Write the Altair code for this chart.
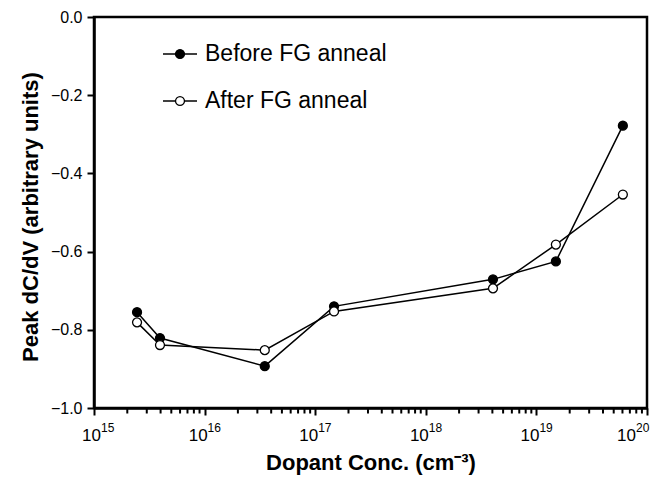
import altair as alt
import pandas as pd

# ---- data ----
conc = [2.45e15, 3.95e15, 3.5e16, 1.48e17, 4.05e18, 1.5e19, 6.05e19]
before = [-0.755, -0.821, -0.893, -0.740, -0.671, -0.625, -0.278]
after = [-0.781, -0.839, -0.852, -0.753, -0.694, -0.582, -0.454]
series_names = ["Before FG anneal", "After FG anneal"]
series_fill = ["black", "white"]
decades = [1e15, 1e16, 1e17, 1e18, 1e19, 1e20]
exponents = ["15", "16", "17", "18", "19", "20"]
y_ticks = [-1.0, -0.8, -0.6, -0.4, -0.2, 0.0]

W, H = 553, 391
FONT = "Liberation Sans"
label_shift = [7, 3, 3, 3, 3, -11]  # horizontal nudges of the 10^n labels (style)

rows = []
for c, b, a in zip(conc, before, after):
    rows.append({"conc": c, "val": b, "series": series_names[0]})
    rows.append({"conc": c, "val": a, "series": series_names[1]})
df = pd.DataFrame(rows)

minor_ticks = [d * m for d in decades[:-1] for m in range(2, 10)]

xscale = alt.Scale(type="log", domain=[1e15, 1e20])
yscale = alt.Scale(domain=[-1.0, 0.0], nice=False, zero=False)
fill_scale = alt.Scale(domain=series_names, range=series_fill)

x_axis = alt.Axis(
    values=decades, labels=False, grid=False, ticks=True,
    tickSize=7, tickWidth=2, tickColor="black", domainWidth=2.5, domainColor="black",
    title="Dopant Conc. (cm\u207b\u00b3)", titleFont=FONT, titleFontSize=22,
    titleFontWeight="bold", titleColor="black",
    titleX=W / 2, titleY=61, titleBaseline="alphabetic", titleAlign="center",
)
y_axis = alt.Axis(
    values=y_ticks, format=".1f", grid=False, ticks=True,
    tickSize=7, tickWidth=2, tickColor="black", domainWidth=2.5, domainColor="black",
    labelFont=FONT, labelFontSize=16, labelColor="black", labelPadding=5,
    title="Peak dC/dV (arbitrary units)", titleFont=FONT, titleFontSize=22,
    titleFontWeight="bold", titleColor="black", titleAngle=-90,
    titleX=-57, titleY=H / 2 + 4, titleBaseline="alphabetic", titleAlign="center",
)

base = alt.Chart(df)

lines = base.mark_line(color="black", strokeWidth=1.5).encode(
    x=alt.X("conc:Q", scale=xscale, axis=x_axis),
    y=alt.Y("val:Q", scale=yscale, axis=y_axis),
    detail="series:N",
)
points = base.mark_point(shape="circle", filled=False, size=80, stroke="black",
                         strokeWidth=1.3, opacity=1).encode(
    x=alt.X("conc:Q", scale=xscale, axis=x_axis),
    y=alt.Y("val:Q", scale=yscale, axis=y_axis),
    fill=alt.Fill("series:N", scale=fill_scale, legend=None),
)

# minor log ticks (outward, below the axis line)
minor = alt.Chart(pd.DataFrame({"conc": minor_ticks})).mark_tick(
    color="black", size=5, thickness=2, orient="vertical", opacity=1).encode(
    x=alt.X("conc:Q", scale=xscale, axis=x_axis),
    y=alt.value(H + 3))

# tick labels 10^n
label_layers = []
for d, e, s in zip(decades, exponents, label_shift):
    ddf = pd.DataFrame({"conc": [d], "exp": [e]})
    label_layers.append(alt.Chart(ddf).mark_text(
        text="10", font=FONT, fontSize=17, align="right", baseline="alphabetic",
        dx=s, color="black").encode(
        x=alt.X("conc:Q", scale=xscale, axis=x_axis), y=alt.value(H + 33)))
    label_layers.append(alt.Chart(ddf).mark_text(
        font=FONT, fontSize=12, align="left", baseline="alphabetic",
        dx=s, color="black").encode(
        x=alt.X("conc:Q", scale=xscale, axis=x_axis), y=alt.value(H + 24), text="exp:N"))

# manual legend
legend_layers = []
for i, (name, fcol) in enumerate(zip(series_names, series_fill)):
    ly = 37 + i * 47
    ldf = pd.DataFrame({"label": [name]})
    lc = alt.Chart(ldf)
    legend_layers.append(lc.mark_rule(color="black", strokeWidth=1.5).encode(
        x=alt.value(69), x2=alt.value(103), y=alt.value(ly)))
    legend_layers.append(lc.mark_point(shape="circle", size=80, filled=True, fill=fcol,
                                       stroke="black", strokeWidth=1.3, opacity=1).encode(
        x=alt.value(86), y=alt.value(ly)))
    legend_layers.append(lc.mark_text(font=FONT, fontSize=23, align="left",
                                      baseline="middle", color="black").encode(
        x=alt.value(111), y=alt.value(ly), text="label:N"))

chart = alt.layer(lines, points, minor, *label_layers, *legend_layers).properties(
    width=W, height=H,
    background="white",
    autosize=alt.AutoSizeParams(type="none"),
    padding={"left": 86, "top": 9, "right": 10, "bottom": 70},
).configure_view(stroke="black", strokeWidth=2.5)

chart.save("out.html", embed_options={"renderer": "svg", "actions": False})
